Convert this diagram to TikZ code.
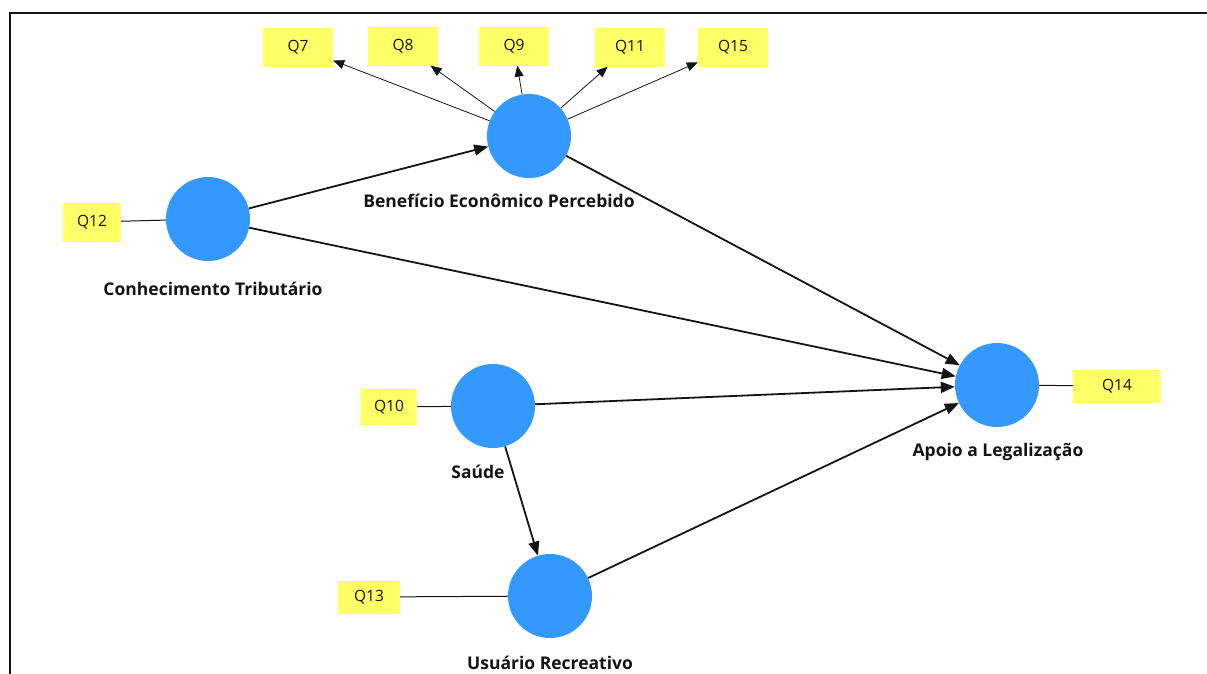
\documentclass[tikz,border=0pt]{standalone}
\usepackage{fontspec}
\setmainfont{Open Sans}
\usetikzlibrary{arrows.meta,positioning}
\definecolor{latent}{RGB}{51,153,255}
\definecolor{item}{RGB}{255,255,102}
\definecolor{ink}{RGB}{20,20,20}
\tikzset{
  every picture/.style={color=ink, x=1pt, y=-1pt},
  construct/.style={circle, fill=latent, draw=none, minimum size=84pt, inner sep=0pt},
  indicator/.style={rectangle, fill=item, draw=none, minimum width=70pt, minimum height=39pt, inner sep=0pt, font=\fontsize{15.5}{18}\selectfont},
  cname/.style={font=\fontsize{17.5}{20}\selectfont\bfseries, inner sep=0pt},
  path/.style={-{Triangle[length=14pt,width=11pt]}, line width=1.8pt},
  load/.style={-{Triangle[length=11pt,width=9pt]}, line width=0.8pt},
  tie/.style={line width=1pt},
}
\begin{document}
\begin{tikzpicture}
  \clip (0,0) rectangle (1207,673);
  % frame of the export, cut at the right and bottom
  \draw[line width=2pt] (10,700) -- (10,13) -- (1230,13);
  % constructs
  \node[construct] (BEP) at (529,136) {};
  \node[construct] (CT) at (208,219) {};
  \node[construct] (SA) at (493,406) {};
  \node[construct] (UR) at (550,596) {};
  \node[construct] (AL) at (997,385) {};
  \node[cname] at (499,201) {Benefício Econômico Percebido};
  \node[cname] at (213,289) {Conhecimento Tributário};
  \node[cname] at (478,472) {Saúde};
  \node[cname] at (550,663) {Usuário Recreativo};
  \node[cname] at (998,452) {Apoio a Legalização};
  % indicators
  \node[indicator] (Q7) at (298,47) {Q7};
  \node[indicator] (Q8) at (403,46) {Q8};
  \node[indicator] (Q9) at (514,46) {Q9};
  \node[indicator] (Q11) at (630,47) {Q11};
  \node[indicator] (Q15) at (733,47) {Q15};
  \node[indicator, minimum width=58pt] (Q12) at (92,222) {Q12};
  \node[indicator, minimum width=56pt, minimum height=36pt] (Q10) at (389,407) {Q10};
  \node[indicator, minimum width=62pt, minimum height=33pt] (Q13) at (369,597) {Q13};
  \node[indicator, minimum width=88pt, minimum height=33pt] (Q14) at (1117,386) {Q14};
  % outer loadings
  \foreach \q in {Q7,Q8,Q9,Q11,Q15}
    \draw[load] (BEP) -- (\q);
  \draw[tie] (Q12) -- (CT);
  \draw[tie] (Q10) -- (SA);
  \draw[tie] (Q13) -- (UR);
  \draw[tie] (AL) -- (Q14);
  % structural paths
  \draw[path] (CT) -- (BEP);
  \draw[path] (CT) -- (AL);
  \draw[path] (BEP) -- (AL);
  \draw[path] (SA) -- (AL);
  \draw[path] (SA) -- (UR);
  \draw[path] (UR) -- (AL);
\end{tikzpicture}
\end{document}
